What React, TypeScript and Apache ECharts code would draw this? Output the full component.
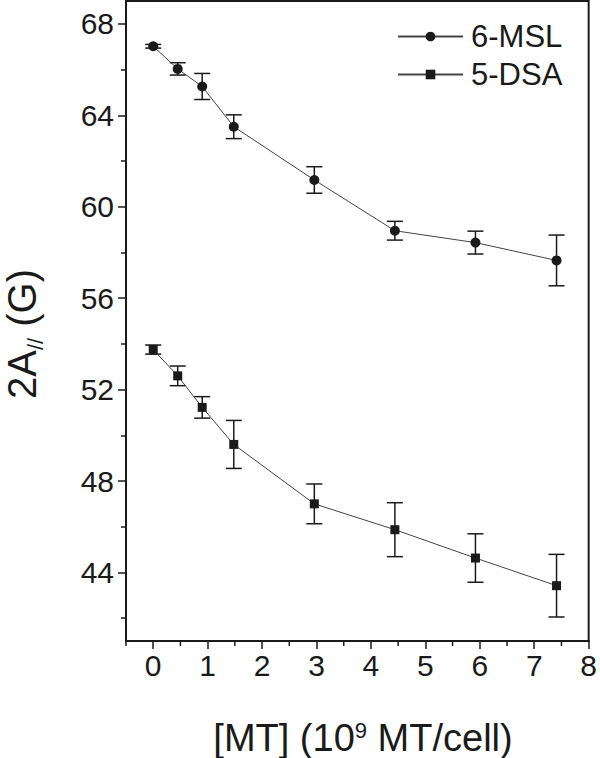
import React, { useEffect, useRef } from "react";
import * as echarts from "echarts";

// ---- data ----
const mtValues = [0, 0.45, 0.9, 1.48, 2.96, 4.44, 5.92, 7.41];
const msl = [67.02, 66.03, 65.26, 63.5, 61.17, 58.95, 58.43, 57.65];
const mslErr = [0.08, 0.27, 0.57, 0.52, 0.58, 0.41, 0.5, 1.11];
const dsa = [53.75, 52.6, 51.22, 49.6, 47.0, 45.87, 44.63, 43.42];
const dsaErr = [0.2, 0.43, 0.47, 1.05, 0.87, 1.18, 1.06, 1.37];

const seriesNames = ["6-MSL", "5-DSA"];
const xMajorTicks = [0, 1, 2, 3, 4, 5, 6, 7, 8];
const xMinorTicks = [-0.5, 0.5, 1.5, 2.5, 3.5, 4.5, 5.5, 6.5, 7.5];
const yMajorTicks = [44, 48, 52, 56, 60, 64, 68];
const yMinorTicks = [42, 46, 50, 54, 58, 62, 66];
const xTitle = "[MT] (10{sup|9} MT/cell)";
const yTitle = "2A{sub|//} (G)";

const X_MIN = -0.5;
const X_MAX = 8;
const Y_MIN = 41;
const Y_MAX = 69;

const FONT = "'Liberation Sans', Arial, Helvetica, sans-serif";
const INK = "#1a1a1a";

export default function App() {
  const ref = useRef<HTMLDivElement>(null);

  useEffect(() => {
    if (!ref.current) return;
    const chart = echarts.init(ref.current, undefined, { renderer: "svg" });

    const errData = (xs: number[], ys: number[], es: number[]) =>
      xs.map((x, i) => [x, ys[i] - es[i], ys[i] + es[i]]);

    const renderErr = (params: any, api: any) => {
      const x = api.value(0);
      const lo = api.value(1);
      const hi = api.value(2);
      const top = api.coord([x, hi]);
      const bot = api.coord([x, lo]);
      const hw = 8;
      const st = { stroke: INK, lineWidth: 1.5 };
      return {
        type: "group",
        children: [
          { type: "line", shape: { x1: top[0], y1: top[1], x2: bot[0], y2: bot[1] }, style: st },
          { type: "line", shape: { x1: top[0] - hw, y1: top[1], x2: top[0] + hw, y2: top[1] }, style: st },
          { type: "line", shape: { x1: bot[0] - hw, y1: bot[1], x2: bot[0] + hw, y2: bot[1] }, style: st },
        ],
      };
    };

    // minor ticks of the x axis, placed with the axis scale
    const renderMinorTick = (params: any, api: any) => {
      const p = api.coord([api.value(0), Y_MIN]);
      return {
        type: "line",
        shape: { x1: p[0], y1: p[1], x2: p[0], y2: p[1] + 5 },
        style: { stroke: INK, lineWidth: 1.5 },
      };
    };

    const yBase = {
      type: "value",
      min: Y_MIN,
      max: Y_MAX,
      position: "left",
      offset: 0,
      splitLine: { show: false },
    };

    chart.setOption({
      animation: false,
      backgroundColor: "#ffffff",
      grid: {
        left: 126,
        top: 1,
        width: 465,
        height: 640,
        show: true,
        borderColor: INK,
        borderWidth: 2,
        backgroundColor: "transparent",
      },
      legend: {
        data: seriesNames,
        orient: "vertical",
        left: 397,
        top: 21,
        padding: 0,
        itemWidth: 65,
        itemHeight: 12,
        itemGap: 7,
        textStyle: {
          fontFamily: FONT,
          fontSize: 31,
          color: INK,
          lineHeight: 30,
          padding: [0, 0, 0, 3],
        },
      },
      xAxis: {
        type: "value",
        min: X_MIN,
        max: X_MAX,
        position: "bottom",
        offset: 0,
        splitLine: { show: false },
        axisLine: { show: true, onZero: false, lineStyle: { color: INK, width: 2 } },
        axisTick: { show: true, length: 8, customValues: xMajorTicks, lineStyle: { color: INK, width: 1.5 } },
        axisLabel: {
          show: true,
          customValues: xMajorTicks,
          margin: 9,
          fontFamily: FONT,
          fontSize: 30,
          color: INK,
        },
      },
      yAxis: [
        {
          ...yBase,
          axisLine: { show: true, onZero: false, lineStyle: { color: INK, width: 2 } },
          axisTick: { show: true, length: 8, customValues: yMajorTicks, lineStyle: { color: INK, width: 1.5 } },
          axisLabel: {
            show: true,
            customValues: yMajorTicks,
            margin: 12,
            fontFamily: FONT,
            fontSize: 30,
            color: INK,
          },
        },
        {
          ...yBase,
          axisLine: { show: false, onZero: false },
          axisTick: { show: true, length: 5, customValues: yMinorTicks, lineStyle: { color: INK, width: 1.5 } },
          axisLabel: { show: false },
        },
      ],
      graphic: [
        {
          type: "text",
          x: 363,
          y: 738,
          style: {
            text: xTitle,
            fontFamily: FONT,
            fontSize: 38,
            lineHeight: 38,
            fill: INK,
            align: "center",
            verticalAlign: "middle",
            rich: {
              sup: { fontFamily: FONT, fontSize: 22, fill: INK, verticalAlign: "top", lineHeight: 38 },
            },
          },
        },
        {
          type: "text",
          x: 22,
          y: 334,
          rotation: Math.PI / 2,
          style: {
            text: yTitle,
            fontFamily: FONT,
            fontSize: 40,
            fill: INK,
            align: "center",
            verticalAlign: "middle",
            rich: {
              sub: { fontFamily: FONT, fontSize: 22, fill: INK, verticalAlign: "bottom", lineHeight: 48 },
            },
          },
        },
      ],
      series: [
        {
          type: "custom",
          name: "x-minor-ticks",
          xAxisIndex: 0,
          yAxisIndex: 0,
          renderItem: renderMinorTick,
          encode: { x: 0 },
          data: xMinorTicks.map((v) => [v]),
          clip: false,
          z: 5,
          silent: true,
        },
        {
          type: "custom",
          name: "err-msl",
          xAxisIndex: 0,
          yAxisIndex: 0,
          renderItem: renderErr,
          encode: { x: 0, y: [1, 2] },
          data: errData(mtValues, msl, mslErr),
          z: 1,
          silent: true,
        },
        {
          type: "custom",
          name: "err-dsa",
          xAxisIndex: 0,
          yAxisIndex: 0,
          renderItem: renderErr,
          encode: { x: 0, y: [1, 2] },
          data: errData(mtValues, dsa, dsaErr),
          z: 1,
          silent: true,
        },
        {
          type: "line",
          name: seriesNames[0],
          xAxisIndex: 0,
          yAxisIndex: 0,
          data: mtValues.map((x, i) => [x, msl[i]]),
          symbol: "circle",
          symbolSize: 10,
          itemStyle: { color: INK, borderWidth: 0 },
          lineStyle: { color: "#444", width: 1 },
          z: 3,
        },
        {
          type: "line",
          name: seriesNames[1],
          xAxisIndex: 0,
          yAxisIndex: 0,
          data: mtValues.map((x, i) => [x, dsa[i]]),
          symbol: "rect",
          symbolSize: 9,
          itemStyle: { color: INK, borderWidth: 0 },
          lineStyle: { color: "#444", width: 1 },
          z: 3,
        },
      ],
    });

    return () => chart.dispose();
  }, []);

  return (
    <div
      ref={ref}
      style={{ position: "fixed", left: 0, top: 0, width: 600, height: 758, background: "#fff" }}
    />
  );
}
